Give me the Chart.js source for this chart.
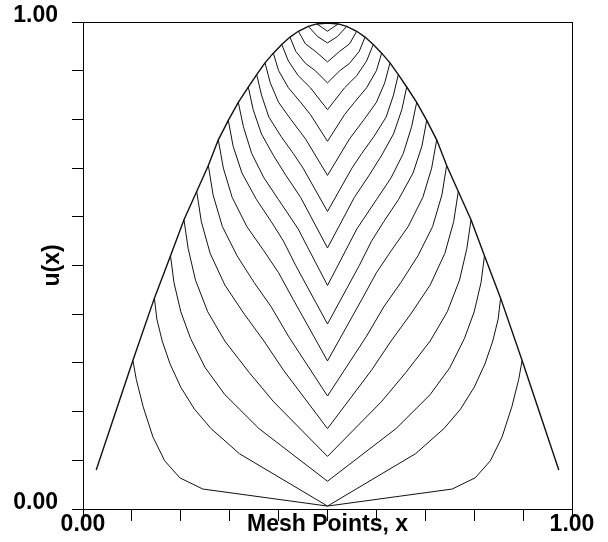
<!DOCTYPE html>
<html><head><meta charset="utf-8">
<script src="https://cdn.jsdelivr.net/npm/chart.js@4.4.1/dist/chart.umd.min.js"></script>
<style>html,body{margin:0;padding:0;background:#fff}canvas{display:block}</style>
</head><body>
<canvas id="c" width="608" height="542"></canvas>
<script>
// ---- data ----
const xTickText = ['0.00','','','','','Mesh Points, x','','','','','1.00'];
const yTickText = ['0.00','','','','','','','','','','1.00'];
const yTitle = 'u(x)';

// outer (final) curve
const envelopeX = [0.027,0.102,0.146,0.179,0.2065,0.2325,0.2563,0.2767,0.2971,0.3176,0.338,0.3552,0.3722,0.3892,0.4064,0.4233,0.4403,0.4607,0.478,0.5,
  0.522,0.5393,0.5597,0.5767,0.5936,0.6108,0.6278,0.6448,0.662,0.6824,0.7029,0.7233,0.7437,0.7675,0.7935,0.821,0.854,0.898,0.973];
const envelopeY = [0.080,0.305,0.433,0.52,0.594,0.652,0.7055,0.758,0.798,0.835,0.8665,0.892,0.916,0.936,0.954,0.969,0.981,0.991,0.996,0.998,
  0.996,0.991,0.981,0.969,0.954,0.936,0.916,0.892,0.8665,0.835,0.798,0.758,0.7055,0.652,0.594,0.52,0.433,0.305,0.080];

// inner parts of the earlier curves (each leaves the outer curve and dips to x = 0.5)
const arcX = [
  [0.102,0.109,0.123,0.143,0.167,0.198,0.245,0.5,0.755,0.802,0.833,0.857,0.877,0.891,0.898],
  [0.146,0.151,0.162,0.178,0.2,0.228,0.262,0.32,0.5,0.68,0.738,0.772,0.8,0.822,0.838,0.849,0.854],
  [0.179,0.186,0.2,0.22,0.25,0.29,0.36,0.5,0.64,0.71,0.75,0.78,0.8,0.814,0.821],
  [0.2065,0.215,0.23,0.255,0.29,0.34,0.39,0.5,0.61,0.66,0.71,0.745,0.77,0.785,0.7935],
  [0.2325,0.242,0.26,0.29,0.33,0.37,0.41,0.5,0.59,0.63,0.67,0.71,0.74,0.758,0.7675],
  [0.2563,0.266,0.285,0.315,0.35,0.385,0.42,0.5,0.58,0.615,0.65,0.685,0.715,0.734,0.7437],
  [0.2767,0.287,0.305,0.335,0.37,0.40,0.43,0.5,0.57,0.60,0.63,0.665,0.695,0.713,0.7233],
  [0.2971,0.307,0.325,0.355,0.385,0.41,0.435,0.5,0.565,0.59,0.615,0.645,0.675,0.693,0.7029],
  [0.3176,0.328,0.345,0.37,0.40,0.44,0.5,0.56,0.60,0.63,0.655,0.672,0.6824],
  [0.338,0.348,0.365,0.39,0.415,0.445,0.5,0.555,0.585,0.61,0.635,0.652,0.662],
  [0.3552,0.365,0.38,0.405,0.43,0.45,0.5,0.55,0.57,0.595,0.62,0.635,0.6448],
  [0.3722,0.383,0.40,0.425,0.455,0.5,0.545,0.575,0.60,0.617,0.6278],
  [0.3892,0.40,0.42,0.445,0.465,0.5,0.535,0.555,0.58,0.60,0.6108],
  [0.4064,0.42,0.44,0.465,0.5,0.535,0.56,0.58,0.5936],
  [0.4233,0.435,0.455,0.475,0.5,0.525,0.545,0.565,0.5767],
  [0.4403,0.455,0.475,0.5,0.525,0.545,0.5597],
  [0.4607,0.48,0.5,0.52,0.5393],
  [0.478,0.49,0.5,0.51,0.522]
];
const arcY = [
  [0.305,0.266,0.21,0.148,0.099,0.064,0.041,0.006,0.041,0.064,0.099,0.148,0.21,0.266,0.305],
  [0.433,0.39,0.345,0.298,0.25,0.205,0.165,0.1135,0.006,0.1135,0.165,0.205,0.25,0.298,0.345,0.39,0.433],
  [0.52,0.465,0.405,0.35,0.29,0.235,0.165,0.057,0.165,0.235,0.29,0.35,0.405,0.465,0.52],
  [0.594,0.535,0.47,0.405,0.345,0.28,0.22,0.108,0.22,0.28,0.345,0.405,0.47,0.535,0.594],
  [0.652,0.59,0.525,0.46,0.40,0.345,0.285,0.165,0.285,0.345,0.40,0.46,0.525,0.59,0.652],
  [0.7055,0.645,0.58,0.52,0.465,0.415,0.355,0.232,0.355,0.415,0.465,0.52,0.58,0.645,0.7055],
  [0.758,0.70,0.64,0.58,0.53,0.485,0.43,0.304,0.43,0.485,0.53,0.58,0.64,0.70,0.758],
  [0.798,0.745,0.69,0.635,0.59,0.55,0.50,0.38,0.50,0.55,0.59,0.635,0.69,0.745,0.798],
  [0.835,0.785,0.73,0.68,0.635,0.575,0.459,0.575,0.635,0.68,0.73,0.785,0.835],
  [0.8665,0.82,0.77,0.725,0.685,0.64,0.536,0.64,0.685,0.725,0.77,0.82,0.8665],
  [0.892,0.85,0.805,0.765,0.73,0.70,0.611,0.70,0.73,0.765,0.805,0.85,0.892],
  [0.916,0.875,0.835,0.80,0.76,0.685,0.76,0.80,0.835,0.875,0.916],
  [0.936,0.90,0.865,0.835,0.81,0.755,0.81,0.835,0.865,0.90,0.936],
  [0.954,0.92,0.89,0.865,0.82,0.865,0.89,0.92,0.954],
  [0.969,0.94,0.915,0.90,0.875,0.90,0.915,0.94,0.969],
  [0.981,0.955,0.94,0.918,0.94,0.955,0.981],
  [0.991,0.97,0.957,0.97,0.991],
  [0.996,0.988,0.981,0.988,0.996]
];

// ---- chart ----
const FONT = {family: '"Liberation Sans", Arial, Helvetica, sans-serif', size: 23, weight: 'bold'};
const lineStyle = {borderColor: '#111', borderWidth: 1, pointRadius: 0, tension: 0, fill: false, showLine: true};

const datasets = [];
datasets.push(Object.assign({data: envelopeX.map((x, i) => ({x: x, y: envelopeY[i]}))}, lineStyle, {borderWidth: 1.4}));
arcX.forEach((xs, k) => {
  datasets.push(Object.assign({data: xs.map((x, i) => ({x: x, y: arcY[k][i]}))}, lineStyle));
});

function noPad(s) { s.paddingTop = 0; s.paddingBottom = 0; s.paddingLeft = 0; s.paddingRight = 0; }

new Chart(document.getElementById('c'), {
  type: 'line',
  data: {datasets: datasets},
  options: {
    responsive: false,
    animation: false,
    devicePixelRatio: 1,
    layout: {padding: {top: 22, right: 36, left: 0, bottom: 0}},
    plugins: {legend: {display: false}, tooltip: {enabled: false}},
    scales: {
      x: {
        type: 'linear', position: 'bottom', min: 0, max: 1,
        ticks: {stepSize: 0.1, autoSkip: false, maxRotation: 0, minRotation: 0, padding: -10, color: '#000', font: FONT,
          callback: (v, i) => xTickText[i]},
        grid: {drawOnChartArea: false, drawTicks: true, tickLength: 12, color: '#000', lineWidth: 1},
        border: {display: true, color: '#000', width: 1},
        afterFit: s => { s.height = 33; noPad(s); }
      },
      y: {
        type: 'linear', position: 'left', min: 0, max: 1,
        ticks: {stepSize: 0.1, autoSkip: false, padding: 14, labelOffset: -6, color: '#000', font: FONT,
          callback: (v, i) => yTickText[i]},
        grid: {drawOnChartArea: false, drawTicks: true, tickLength: 11, color: '#000', lineWidth: 1},
        border: {display: true, color: '#000', width: 1},
        title: {display: true, text: yTitle, color: '#000', font: FONT, padding: {top: 39, bottom: 0}},
        afterFit: s => { s.width = 83; noPad(s); }
      },
      xTop: {
        type: 'linear', position: 'top', min: 0, max: 1, display: true,
        ticks: {display: false}, grid: {display: false, drawTicks: false},
        border: {display: true, color: '#000', width: 1},
        afterFit: s => { s.height = 0; noPad(s); }
      },
      yRight: {
        type: 'linear', position: 'right', min: 0, max: 1, display: true,
        ticks: {display: false}, grid: {display: false, drawTicks: false},
        border: {display: true, color: '#000', width: 1},
        afterFit: s => { s.width = 0; noPad(s); }
      }
    }
  }
});
</script>
</body></html>
